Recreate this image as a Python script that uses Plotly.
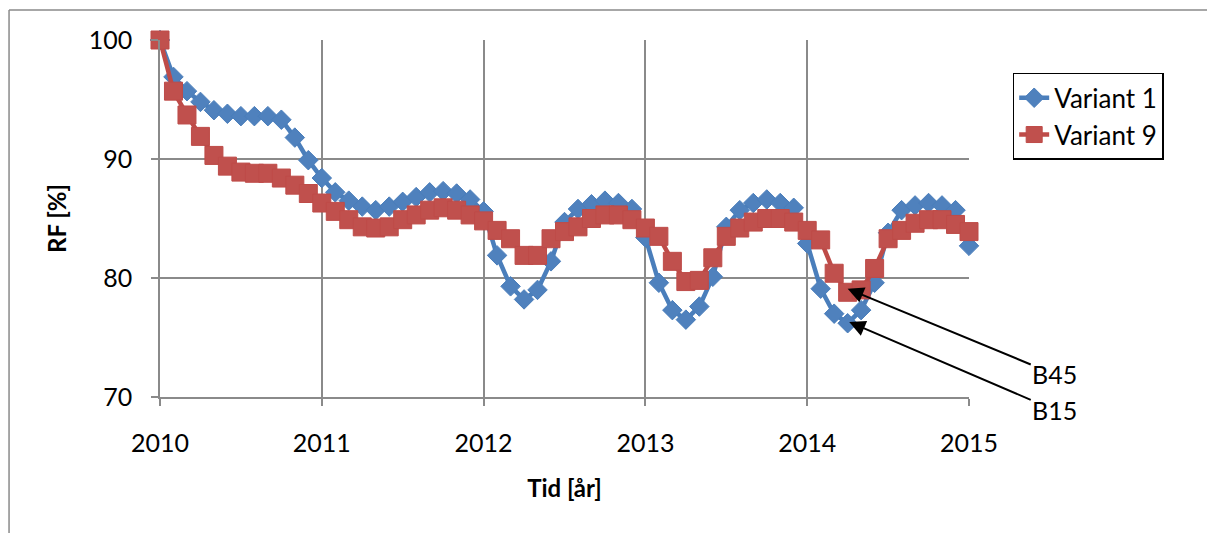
import plotly.graph_objects as go

# monthly time axis (years)
months = [2010 + i / 12 for i in range(61)]

variant1 = [100, 96.9, 95.7, 94.8, 94.1, 93.8, 93.6, 93.6, 93.6, 93.3, 91.8, 89.9,
            88.4, 87.2, 86.5, 86.0, 85.7, 86.0, 86.4, 86.8, 87.2, 87.3, 87.1, 86.6,
            85.6, 81.9, 79.3, 78.2, 79.0, 81.4, 84.7, 85.8, 86.2, 86.5, 86.3, 85.8,
            83.4, 79.6, 77.3, 76.5, 77.6, 80.1, 84.3, 85.7, 86.3, 86.6, 86.3, 85.9,
            82.9, 79.1, 77.0, 76.2, 77.3, 79.6, 83.8, 85.7, 86.1, 86.3, 86.1, 85.7,
            82.7]

variant9 = [100, 95.7, 93.7, 91.9, 90.3, 89.4, 88.9, 88.8, 88.8, 88.4, 87.8, 87.1,
            86.3, 85.6, 84.9, 84.3, 84.2, 84.3, 84.9, 85.3, 85.7, 85.9, 85.7, 85.3,
            84.8, 84.0, 83.3, 81.9, 81.9, 83.3, 83.9, 84.3, 85.0, 85.3, 85.3, 84.9,
            84.2, 83.5, 81.4, 79.7, 79.8, 81.7, 83.5, 84.2, 84.7, 85.0, 85.0, 84.7,
            84.0, 83.2, 80.4, 78.8, 79.0, 80.8, 83.3, 84.0, 84.6, 84.9, 84.9, 84.5,
            83.9]

x_ticks = [2010, 2011, 2012, 2013, 2014, 2015]
y_ticks = [70, 80, 90, 100]

# annotation anchors (data coordinates)
labels = ["B45", "B15"]
label_targets = [(2014.25, 79.1), (2014.26, 76.3)]
label_text_pos = [(2015.53, 71.9), (2015.53, 68.9)]

FONT = "Lato, Carlito, Calibri, 'Open Sans', sans-serif"
GRID = "#8a8a8a"
FS = 25

fig = go.Figure()
fig.add_trace(go.Scatter(
    x=months, y=variant1, name="Variant 1", mode="lines+markers",
    line=dict(color="#4A7EBB", width=4.5),
    marker=dict(symbol="diamond", size=15, color="#4F81BD",
                line=dict(color="#4A7EBB", width=1)),
    cliponaxis=False,
))
fig.add_trace(go.Scatter(
    x=months, y=variant9, name="Variant 9", mode="lines+markers",
    line=dict(color="#BE4B48", width=4.5),
    marker=dict(symbol="square", size=18, color="#C0504D",
                line=dict(color="#BE4B48", width=1)),
    cliponaxis=False,
))

for lab, (tx, ty), (ax, ay) in zip(labels, label_targets, label_text_pos):
    fig.add_annotation(
        x=tx, y=ty, ax=ax, ay=ay, xref="x", yref="y", axref="x", ayref="y",
        text=lab, showarrow=True, arrowhead=2, arrowsize=1.6, arrowwidth=2,
        arrowcolor="black", font=dict(family=FONT, size=FS, color="black"),
        xanchor="center", yanchor="middle",
    )

fig.update_layout(
    width=1207, height=533,
    margin=dict(l=160, r=238, t=40, b=136),
    paper_bgcolor="white", plot_bgcolor="white",
    font=dict(family=FONT, size=FS, color="black"),
    showlegend=True,
    legend=dict(
        x=1.054, y=0.908, xanchor="left", yanchor="top",
        bordercolor="black", borderwidth=1.5, bgcolor="white",
        font=dict(family=FONT, size=FS + 1, color="black"),
        tracegroupgap=0, itemsizing="trace",
    ),
    xaxis=dict(
        range=[2010, 2015], tickvals=x_ticks, ticktext=[str(v) for v in x_ticks],
        showgrid=True, gridcolor=GRID, gridwidth=1.5,
        showline=True, linecolor=GRID, linewidth=1.5,
        ticks="outside", ticklen=7, tickcolor=GRID, tickwidth=1.5,
        ticklabelstandoff=16, zeroline=False,
        title=dict(text="<b>Tid [år]</b>", font=dict(family=FONT, size=FS - 1), standoff=24),
    ),
    yaxis=dict(
        range=[70, 100], tickvals=y_ticks, ticktext=[str(v) for v in y_ticks],
        showgrid=True, gridcolor=GRID, gridwidth=1.5,
        showline=True, linecolor=GRID, linewidth=1.5,
        ticks="outside", ticklen=7, tickcolor=GRID, tickwidth=1.5,
        ticklabelstandoff=14, zeroline=False,
        title=dict(text="<b>RF [%]</b>", font=dict(family=FONT, size=FS - 1), standoff=15),
    ),
    shapes=[
        dict(type="line", xref="paper", yref="paper", x0=-0.1866, x1=-0.1866,
             y0=1.084, y1=-0.5, line=dict(color="#8a8a8a", width=1.5)),
        dict(type="line", xref="paper", yref="paper", x0=-0.1866, x1=1.4,
             y0=1.084, y1=1.084, line=dict(color="#8a8a8a", width=1.5)),
    ],
)

fig.write_html("out.html")
